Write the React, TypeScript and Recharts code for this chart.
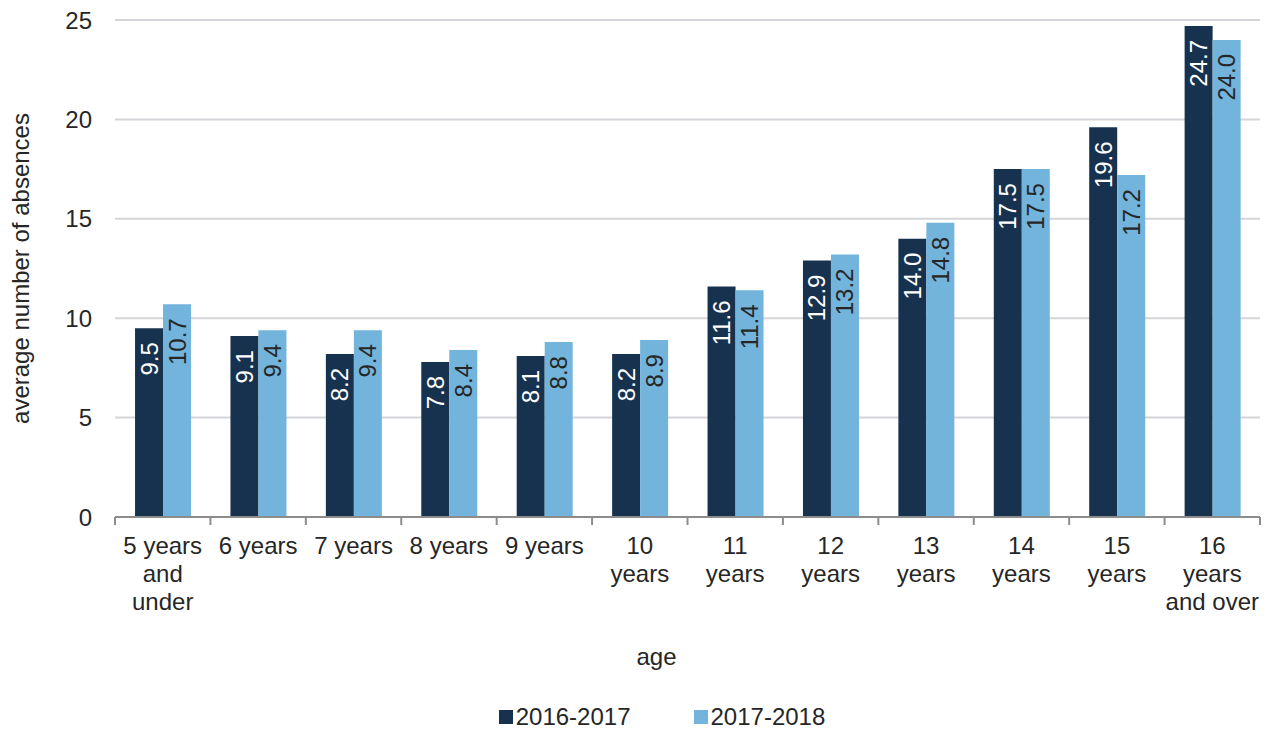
import { BarChart, Bar, XAxis, YAxis, CartesianGrid, Legend, LabelList } from 'recharts';

const ageGroups = [
  '5 years\nand\nunder',
  '6 years',
  '7 years',
  '8 years',
  '9 years',
  '10\nyears',
  '11\nyears',
  '12\nyears',
  '13\nyears',
  '14\nyears',
  '15\nyears',
  '16\nyears\nand over',
];
const absences2016 = [9.5, 9.1, 8.2, 7.8, 8.1, 8.2, 11.6, 12.9, 14.0, 17.5, 19.6, 24.7];
const absences2017 = [10.7, 9.4, 9.4, 8.4, 8.8, 8.9, 11.4, 13.2, 14.8, 17.5, 17.2, 24.0];
const yTicks = [0, 5, 10, 15, 20, 25];

const data = ageGroups.map((age, i) => ({
  age,
  '2016-2017': absences2016[i],
  '2017-2018': absences2017[i],
}));

const DARK = '#17324f';
const LIGHT = '#72b4dc';
const TEXT = '#262626';
const FONT = 'Arial, "Liberation Sans", sans-serif';
const FS = 24;
const BAND = 1145 / ageGroups.length;

const AgeTick = (props: any) => {
  const { x, y, payload, index } = props;
  const lines = String(payload.value).split('\n');
  return (
    <g transform={`translate(${x},${y})`}>
      <line x1={-BAND / 2} x2={-BAND / 2} y1={0} y2={8} stroke="#8c8c8c" strokeWidth={2} />
      {index === ageGroups.length - 1 && (
        <line x1={BAND / 2} x2={BAND / 2} y1={0} y2={8} stroke="#8c8c8c" strokeWidth={2} />
      )}
      <text textAnchor="middle" fontSize={FS} fill={TEXT} fontFamily={FONT}>
        {lines.map((l, i) => (
          <tspan key={i} x={0} y={37 + i * 28}>{l}</tspan>
        ))}
      </text>
    </g>
  );
};

const barLabel = (color: string) => (props: any) => {
  const { x, y, width, value } = props;
  return (
    <text
      transform={`translate(${x + width / 2},${y + 14}) rotate(-90)`}
      textAnchor="end"
      dominantBaseline="central"
      fontSize={FS}
      fill={color}
      fontFamily={FONT}
    >
      {Number(value).toFixed(1)}
    </text>
  );
};

const LegendBox = () => (
  <div style={{ display: 'flex', justifyContent: 'center', alignItems: 'center', height: 28, fontFamily: FONT, fontSize: FS, color: TEXT, paddingLeft: 64 }}>
    <span style={{ display: 'flex', alignItems: 'center', marginRight: 63 }}>
      <span style={{ width: 14, height: 14, background: DARK, marginRight: 3 }} />
      2016-2017
    </span>
    <span style={{ display: 'flex', alignItems: 'center' }}>
      <span style={{ width: 14, height: 14, background: LIGHT, marginRight: 3 }} />
      2017-2018
    </span>
  </div>
);

export default function App() {
  return (
    <div style={{ position: 'absolute', left: 0, top: 0, background: '#fff' }}>
      <BarChart
        width={1269}
        height={731}
        data={data}
        margin={{ top: 20, right: 9, left: 0, bottom: 0 }}
        barGap={0}
        barCategoryGap="21%"
      >
        <CartesianGrid vertical={false} stroke="#d3d5d8" strokeWidth={2} />
        <XAxis
          dataKey="age"
          interval={0}
          height={186}
          tickLine={false}
          tickSize={0}
          tickMargin={0}
          axisLine={{ stroke: '#8c8c8c', strokeWidth: 2 }}
          tick={<AgeTick />}
          label={{ value: 'age', position: 'insideBottom', offset: 38, dx: -31, fontSize: FS, fill: TEXT, fontFamily: FONT }}
        />
        <YAxis
          width={115}
          domain={[0, 25]}
          ticks={yTicks}
          axisLine={false}
          tickLine={false}
          tickSize={0}
          tickMargin={23}
          tick={{ fontSize: FS, fill: TEXT, fontFamily: FONT }}
          label={{ value: 'average number of absences', angle: -90, position: 'center', dx: -37, fontSize: FS, fill: TEXT, fontFamily: FONT }}
        />
        <Legend verticalAlign="bottom" content={<LegendBox />} />
        <Bar dataKey="2016-2017" fill={DARK} isAnimationActive={false}>
          <LabelList dataKey="2016-2017" content={barLabel('#ffffff')} />
        </Bar>
        <Bar dataKey="2017-2018" fill={LIGHT} isAnimationActive={false}>
          <LabelList dataKey="2017-2018" content={barLabel(TEXT)} />
        </Bar>
      </BarChart>
    </div>
  );
}
